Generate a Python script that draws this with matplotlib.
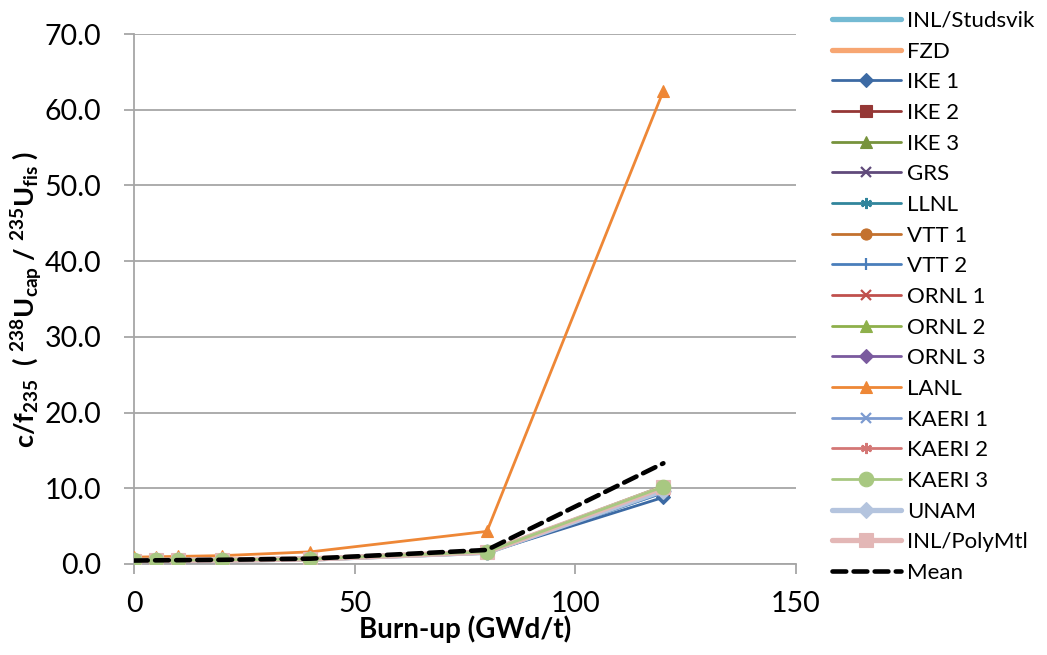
import matplotlib
matplotlib.use("Agg")
import matplotlib.pyplot as plt

plt.rcParams['font.family'] = ['Lato', 'DejaVu Sans']
plt.rcParams['mathtext.fontset'] = 'custom'
plt.rcParams['mathtext.rm'] = 'Lato'
plt.rcParams['mathtext.bf'] = 'Lato:bold'
plt.rcParams['mathtext.it'] = 'Lato:italic'

burnup = [0, 5, 10, 20, 40, 80, 120]

inl_studsvik = [0.45, 0.47, 0.49, 0.53, 0.65, 1.55, 9.6]
fzd          = [0.45, 0.47, 0.49, 0.53, 0.66, 1.58, 9.9]
ike_1        = [0.44, 0.46, 0.48, 0.52, 0.63, 1.50, 8.8]
ike_2        = [0.45, 0.47, 0.49, 0.53, 0.65, 1.56, 9.9]
ike_3        = [0.46, 0.48, 0.50, 0.54, 0.67, 1.62, 10.3]
grs          = [0.45, 0.47, 0.49, 0.53, 0.65, 1.54, 9.7]
llnl         = [0.45, 0.47, 0.49, 0.53, 0.64, 1.53, 9.5]
vtt_1        = [0.45, 0.47, 0.49, 0.53, 0.66, 1.58, 10.1]
vtt_2        = [0.45, 0.47, 0.49, 0.53, 0.64, 1.52, 9.4]
ornl_1       = [0.45, 0.47, 0.49, 0.53, 0.65, 1.57, 10.0]
ornl_2       = [0.46, 0.48, 0.50, 0.54, 0.66, 1.60, 10.2]
ornl_3       = [0.45, 0.47, 0.49, 0.53, 0.65, 1.55, 9.8]
lanl         = [0.90, 0.95, 1.00, 1.10, 1.60, 4.30, 62.5]
kaeri_1      = [0.45, 0.47, 0.49, 0.53, 0.65, 1.54, 9.6]
kaeri_2      = [0.45, 0.47, 0.49, 0.53, 0.65, 1.57, 10.0]
kaeri_3      = [0.46, 0.48, 0.50, 0.54, 0.66, 1.60, 10.2]
unam         = [0.45, 0.47, 0.49, 0.53, 0.65, 1.55, 9.7]
inl_polymtl  = [0.45, 0.47, 0.49, 0.53, 0.66, 1.58, 10.1]
mean         = [0.45, 0.48, 0.50, 0.55, 0.70, 1.85, 13.3]

series_names = ["INL/Studsvik", "FZD", "IKE 1", "IKE 2", "IKE 3", "GRS", "LLNL",
                "VTT 1", "VTT 2", "ORNL 1", "ORNL 2", "ORNL 3", "LANL",
                "KAERI 1", "KAERI 2", "KAERI 3", "UNAM", "INL/PolyMtl"]
series_values = [inl_studsvik, fzd, ike_1, ike_2, ike_3, grs, llnl, vtt_1, vtt_2,
                 ornl_1, ornl_2, ornl_3, lanl, kaeri_1, kaeri_2, kaeri_3, unam,
                 inl_polymtl]

asterisk = (6, 2, 0)
# (colour, marker, line width, marker size, z-order)
styles = [
    ("#74BAD3", None, 3.8, 0, 3),
    ("#F7A672", None, 3.8, 0, 3),
    ("#3C6AA4", "D", 2.0, 7, 3),
    ("#953735", "s", 2.0, 8, 3),
    ("#77933C", "^", 2.0, 8, 3),
    ("#604A7B", "x", 2.0, 7, 3),
    ("#31859C", asterisk, 2.0, 8, 3),
    ("#C3712E", "o", 2.0, 8, 3),
    ("#4A7EBB", "|", 2.0, 9, 3),
    ("#C0504D", "x", 2.0, 7, 3),
    ("#8EB04B", "^", 2.0, 8, 3),
    ("#7A5A9E", "D", 2.0, 7, 3),
    ("#EE8736", "^", 2.0, 9, 3),
    ("#7C9BD0", "x", 2.0, 7, 3),
    ("#D47775", asterisk, 2.0, 8, 3),
    ("#A8C881", "o", 2.0, 10.5, 3.3),
    ("#B4C4DE", "D", 3.8, 8, 3),
    ("#E3B7B6", "s", 3.8, 9.5, 3.2),
]

fig = plt.figure(figsize=(10.47, 6.55), dpi=100)
ax = fig.add_axes([0.128, 0.139, 0.632, 0.809])

for name, vals, (col, mk, lw, ms, z) in zip(series_names, series_values, styles):
    ax.plot(burnup, vals, color=col, lw=lw, marker=mk, markersize=ms,
            markeredgecolor=col, markerfacecolor=col,
            markeredgewidth=1.6 if mk in ("x", "|", asterisk) else 0.8,
            label=name, solid_capstyle="round", zorder=z)

ax.plot(burnup, mean, color="black", lw=3.3, dashes=(3.0, 1.6),
        dash_capstyle="round", label="Mean", zorder=4)

ax.set_xlim(0, 150)
ax.set_ylim(0, 70)
ax.set_xticks([0, 50, 100, 150])
ax.set_yticks(range(0, 71, 10))
ax.set_yticklabels([f"{v:.1f}" for v in range(0, 71, 10)])
ax.yaxis.grid(True, color="#A6A6A6", lw=1.3)
ax.set_axisbelow(True)
for s in ("top", "right"):
    ax.spines[s].set_visible(False)
for s in ("left", "bottom"):
    ax.spines[s].set_color("#A6A6A6")
    ax.spines[s].set_linewidth(1.3)
ax.tick_params(axis="both", colors="#A6A6A6", width=1.3, length=7.5,
               labelcolor="black", labelsize=20.5)
ax.tick_params(axis="x", pad=12)
ax.tick_params(axis="y", pad=16)

ax.set_xlabel("Burn-up (GWd/t)", fontsize=20, fontweight="bold", labelpad=-1)
ax.set_ylabel(r"c/f$_{\mathbf{235}}$  ( $^{\mathbf{238}}$U$_{\mathbf{cap}}$ / "
              r"$^{\mathbf{235}}$U$_{\mathbf{fis}}$ )",
              fontsize=19.5, fontweight="bold", labelpad=0)

leg = ax.legend(loc="upper left", bbox_to_anchor=(0.786, 0.997),
                bbox_transform=fig.transFigure, frameon=False, fontsize=16,
                handlelength=3.1, handletextpad=0.3, labelspacing=0.48,
                borderaxespad=0.0)

fig.savefig("out.png", dpi=100)
